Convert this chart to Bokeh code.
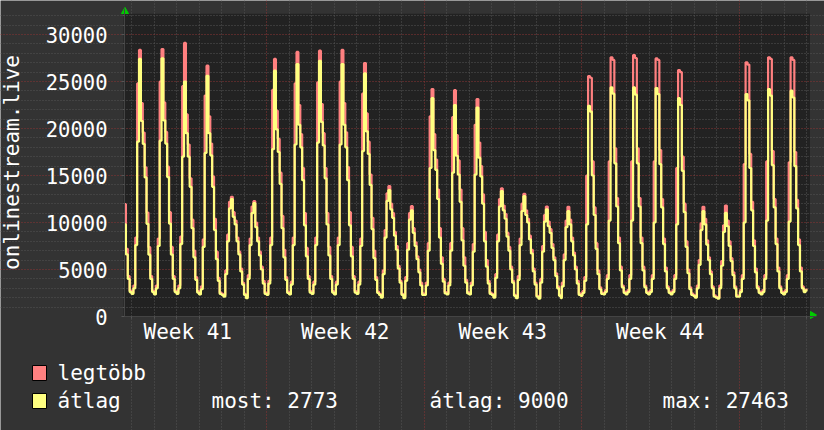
from bokeh.plotting import figure
from bokeh.models import FixedTicker, Grid, Range1d, Label, BoxAnnotation
from bokeh.embed import file_html
from bokeh.resources import INLINE
import math

# ---------------- data (2-hour bins, hours since Monday 00:00 of week 41) ----------------
avg_w41 = [9800, 6600, 4000, 2600,
           2400, 3000, 7600, 18600, 27400, 20800, 18360, 14800, 9860, 6580, 4000, 2600,
           2350, 3000, 7500, 18700, 27463, 20870, 18400, 14830, 9890, 6590, 4000, 2600,
           2400, 3000, 7700, 17000, 25000, 19500, 17000, 13800, 9400, 6300, 3900, 2550,
           2350, 2900, 7400, 17400, 25600, 19500, 17150, 13800, 9200, 6100, 3800, 2400,
           2300, 2100, 4500, 8000, 11500, 12490, 10600, 9800, 8000, 6600, 4800, 3400,
           2300, 1950, 4000, 7600, 11000, 12060, 9500, 8000, 6500, 5000, 3500, 2400]
max_w41 = [11950, 7200, 4300, 2750,
           2500, 3300, 8400, 24800, 28360, 22700, 19570, 15880, 11060, 7370, 4300, 2750,
           2450, 3300, 8300, 25000, 28460, 22770, 19640, 15940, 11100, 7400, 4300, 2750,
           2500, 3300, 8500, 24500, 29100, 21500, 18300, 14700, 10300, 7000, 4200, 2700,
           2450, 3200, 8200, 23500, 26680, 21300, 18400, 14900, 10400, 6900, 4100, 2550,
           2400, 2250, 4900, 8700, 12200, 12730, 11100, 10200, 8400, 6900, 5100, 3600,
           2400, 2100, 4400, 8300, 11700, 12270, 10000, 8400, 6900, 5300, 3800, 2550]

avg_w42 = [2300, 3500, 7600, 17800, 26150, 19900, 17500, 14100, 9400, 6300, 3900, 2500,
           2350, 3400, 7600, 18300, 26860, 20400, 18000, 14500, 9700, 6400, 4000, 2550,
           2400, 3400, 7600, 18500, 27200, 20700, 18200, 14700, 9800, 6500, 4000, 2550,
           2350, 3400, 7600, 18300, 26860, 20400, 18000, 14500, 9700, 6400, 4000, 2550,
           2400, 3400, 7500, 17600, 25860, 19700, 17300, 14000, 9300, 6200, 3900, 2500,
           2300, 2000, 4500, 8400, 12300, 13450, 11400, 10500, 8600, 7100, 5100, 3600,
           2300, 1950, 3800, 7100, 10300, 11280, 8900, 7500, 6100, 4700, 3300, 2300]
max_w42 = [2400, 3800, 8400, 24100, 27400, 21900, 18900, 15300, 10700, 7100, 4200, 2650,
           2450, 3700, 8400, 24800, 28150, 22500, 19400, 15800, 11000, 7300, 4300, 2700,
           2500, 3700, 8400, 24900, 28280, 22600, 19500, 15800, 11000, 7400, 4300, 2700,
           2450, 3700, 8400, 25000, 28360, 22700, 19600, 15900, 11100, 7400, 4300, 2700,
           2500, 3700, 8300, 23700, 26970, 21600, 18600, 15100, 10500, 7000, 4200, 2650,
           2400, 2150, 4900, 9200, 13100, 13870, 12000, 11000, 9000, 7500, 5400, 3800,
           2400, 2100, 4200, 7800, 11000, 11740, 9400, 7900, 6400, 5000, 3600, 2450]

avg_w43 = [2300, 3300, 7000, 15800, 23230, 17700, 15600, 12500, 8400, 5600, 3700, 2450,
           2350, 3300, 7000, 15300, 22500, 17100, 15100, 12200, 8100, 5400, 3600, 2450,
           2350, 3300, 6900, 15100, 22230, 16900, 14900, 12000, 8000, 5300, 3500, 2400,
           2300, 2000, 4100, 8000, 11700, 13340, 11300, 10400, 8500, 7000, 5000, 3600,
           2200, 1950, 3900, 7600, 11200, 12800, 10800, 10000, 8200, 6700, 4800, 3400,
           2100, 1900, 3600, 6900, 10100, 11390, 9600, 8900, 7300, 6000, 4300, 3000,
           2200, 1950, 3200, 6000, 9500, 11200, 9800, 8000, 6500, 5000, 3500, 2300]
max_w43 = [2400, 3600, 7800, 21300, 24190, 19400, 16700, 13500, 9400, 6300, 4000, 2600,
           2450, 3600, 7800, 21200, 24080, 19300, 16600, 13500, 9400, 6300, 3900, 2600,
           2450, 3600, 7700, 20400, 23130, 18500, 16000, 13000, 9000, 6000, 3800, 2550,
           2400, 2150, 4500, 8700, 12500, 13630, 11800, 10900, 8900, 7400, 5300, 3800,
           2300, 2100, 4300, 8300, 12000, 13050, 11300, 10400, 8600, 7100, 5100, 3600,
           2200, 2050, 4000, 7500, 10800, 11700, 10100, 9300, 7700, 6300, 4600, 3200,
           2300, 2050, 3600, 6600, 10200, 11670, 10300, 8400, 6800, 5300, 3800, 2450]

avg_w44 = [2200, 2500, 3800, 9800, 22410, 21800, 15000, 10800, 7200, 4500, 2900, 2400,
           2350, 2600, 4000, 10200, 24370, 23700, 16300, 11700, 7800, 4900, 3100, 2500,
           2350, 2600, 4000, 10200, 24370, 23600, 16300, 11700, 7800, 4900, 3100, 2500,
           2350, 2600, 4000, 10000, 24300, 23660, 16200, 11600, 7700, 4800, 3000, 2500,
           2350, 2600, 4000, 9800, 23230, 22500, 15500, 11100, 7400, 4600, 2900, 2300,
           2200, 2000, 3000, 5500, 9200, 11200, 9800, 7650, 6000, 4500, 3000, 2100,
           2000, 1900, 3000, 5400, 9000, 11020, 9600, 7500, 5900, 4400, 3000, 2100]
max_w44 = [2300, 2700, 4200, 15000, 25580, 25400, 16500, 11600, 7800, 4900, 3100, 2550,
           2450, 2800, 4400, 16500, 27570, 27300, 17900, 12600, 8400, 5300, 3300, 2650,
           2450, 2800, 4400, 16500, 27820, 27500, 17900, 12600, 8400, 5300, 3300, 2650,
           2450, 2800, 4400, 16500, 27460, 27300, 17700, 12500, 8300, 5200, 3200, 2650,
           2450, 2800, 4400, 15800, 26220, 26000, 17000, 12000, 8000, 5000, 3100, 2450,
           2300, 2100, 3300, 6000, 9900, 11670, 10400, 8100, 6300, 4800, 3200, 2250,
           2100, 2000, 3300, 5900, 9700, 11810, 10200, 8000, 6200, 4700, 3200, 2250]

avg_w45 = [2100, 2600, 4000, 10000, 23660, 23000, 15800, 11300, 7500, 4700, 3000, 2500,
           2350, 2600, 4000, 10200, 24190, 23500, 16100, 11600, 7700, 4800, 3000, 2500,
           2350, 2600, 4000, 10100, 24020, 23300, 16000, 11500, 7600, 4800, 3000, 2600,
           2773]
max_w45 = [2200, 2800, 4400, 16200, 27040, 26800, 17300, 12200, 8100, 5100, 3200, 2650,
           2450, 2800, 4400, 16500, 27570, 27400, 17600, 12500, 8300, 5200, 3200, 2650,
           2450, 2800, 4400, 16400, 27570, 27300, 17500, 12400, 8200, 5200, 3200, 2750,
           2850]

week_labels = ["Week 41", "Week 42", "Week 43", "Week 44"]
y_tick_values = [0, 5000, 10000, 15000, 20000, 25000, 30000]
y_tick_labels = ["0", "5000", "10000", "15000", "20000", "25000", "30000"]
y_title = "onlinestream.live"
legend_names = ["legtöbb", "átlag"]
legend_colors = ["#ff8080", "#ffff80"]
legend_stats = ["most: 2773", "átlag: 9000", "max: 27463"]

avg = avg_w41 + avg_w42 + avg_w43 + avg_w44 + avg_w45
mx = max_w41 + max_w42 + max_w43 + max_w44 + max_w45

# bin start times (summer time ends on the Sunday of week 43 -> bins shift by one hour)
t = list(range(16, 481, 2)) + [482] + list(range(483, 744, 2))
assert len(t) == len(avg) == len(mx), (len(t), len(avg), len(mx))
ts = t + [t[-1] + 2]
avg_s = avg + [avg[-1]]
mx_s = mx + [mx[-1]]

# ---------------- geometry (page pixels) ----------------
W, H = 824, 430
BG = "#333333"
CANVAS = "#222222"
TXT = "#ffffff"
FONT = "DejaVu Sans Mono"
X0 = 16.5               # first hour shown in the graph
PXH = 0.9375            # px per hour
PXV = 0.0094            # px per unit
GX = 124                # page x of the graph's left edge
GY = 316                # page y of the value 0


def xpx(px):
    return X0 + (px - GX) / PXH


def ypx(py):
    return (GY - py) / PXV


canvas_right = xpx(809.5)
canvas_top = 32200
axis_x_end = xpx(816)
axis_y_end = ypx(8)

p = figure(width=W, height=H, title=None,
           x_range=Range1d(xpx(0), xpx(W)), y_range=Range1d(ypx(H), ypx(0)),
           output_backend="svg", toolbar_location=None, min_border=0,
           background_fill_color=BG, border_fill_color=BG, outline_line_color=None)
p.grid.visible = False

p.quad(left=[X0 - 1], right=[canvas_right], bottom=[0], top=[canvas_top],
       fill_color=CANVAS, line_color=None, level="image")

day_ticks = [24 * d for d in range(1, 32) if d % 7 != 0]
week_ticks = [168, 336, 504, 672]
week_mid = [84 + 168 * i for i in range(4)]
y_minor = [v for v in range(1000, 33000, 1000) if v % 5000 != 0]
y_major = [v for v in range(5000, 33000, 5000)]

for tk, col, dim, bnd in [
        (day_ticks, "#555555", 0, (0, canvas_top)),
        (y_minor, "#555555", 1, (X0, canvas_right + 1.5)),
        (week_ticks, "#8c3434", 0, (0, canvas_top)),
        (y_major, "#8c3434", 1, (X0, canvas_right + 1.5))]:
    p.add_layout(Grid(dimension=dim, ticker=FixedTicker(ticks=tk), bounds=bnd,
                      grid_line_color=col, grid_line_dash="1 2", grid_line_width=1), "center")

p.step(ts, mx_s, mode="after", line_color=legend_colors[0], line_width=2.2)
p.step(ts, avg_s, mode="after", line_color=legend_colors[1], line_width=2.2)

# axis arrows
p.scatter(x=[X0 + 0.5], y=[ypx(11)], marker="triangle", size=7,
          fill_color="#00cc00", line_color="#00cc00")
p.scatter(x=[xpx(812)], y=[ypx(314.5)], marker="triangle", size=7, angle=-math.pi / 2,
          fill_color="#00cc00", line_color="#00cc00")

xa = p.xaxis[0]
xa.fixed_location = 0
xa.bounds = (X0, axis_x_end)
xa.ticker = FixedTicker(ticks=week_mid, minor_ticks=day_ticks + week_ticks)
xa.major_label_overrides = {m: lab for m, lab in zip(week_mid, week_labels)}
xa.major_tick_line_color = None
xa.major_tick_out = 0
xa.major_tick_in = 0
xa.minor_tick_line_color = "#555555"
xa.minor_tick_in = 0
xa.minor_tick_out = 2
xa.axis_line_color = "#444444"
xa.major_label_text_font = FONT
xa.major_label_text_font_size = "21px"
xa.major_label_text_color = TXT
xa.major_label_standoff = 1

ya = p.yaxis[0]
ya.fixed_location = X0
ya.bounds = (0, axis_y_end)
ya.ticker = FixedTicker(ticks=y_tick_values, minor_ticks=y_minor)
ya.major_label_overrides = {v: s for v, s in zip(y_tick_values, y_tick_labels)}
ya.major_tick_line_color = "#555555"
ya.major_tick_out = 3
ya.major_tick_in = 0
ya.minor_tick_line_color = "#555555"
ya.minor_tick_out = 2
ya.minor_tick_in = 0
ya.axis_line_color = "#444444"
ya.major_label_text_font = FONT
ya.major_label_text_font_size = "20.5px"
ya.major_label_text_color = TXT
ya.major_label_standoff = 14
ya.axis_label = y_title
ya.axis_label_text_font = FONT
ya.axis_label_text_font_size = "21px"
ya.axis_label_text_font_style = "normal"
ya.axis_label_text_color = TXT
ya.axis_label_standoff = 19

# ---------------- legend (below the graph) ----------------
for name, col, row_top, base in zip(legend_names, legend_colors, [365, 393], [372, 400]):
    p.add_layout(BoxAnnotation(left=xpx(32), right=xpx(46), top=ypx(row_top), bottom=ypx(row_top + 15),
                               fill_color=col, fill_alpha=1.0, line_color="#000000",
                               line_width=1, line_alpha=1.0))
    p.add_layout(Label(x=xpx(57), y=ypx(base), text=name, text_font=FONT,
                       text_font_size="21px", text_color=TXT, text_baseline="alphabetic"))

for stat, px in zip(legend_stats, [211, 429, 662]):
    p.add_layout(Label(x=xpx(px), y=ypx(400), text=stat, text_font=FONT,
                       text_font_size="21px", text_color=TXT, text_baseline="alphabetic"))

open("out.html", "w", encoding="utf-8").write(file_html(p, INLINE))
